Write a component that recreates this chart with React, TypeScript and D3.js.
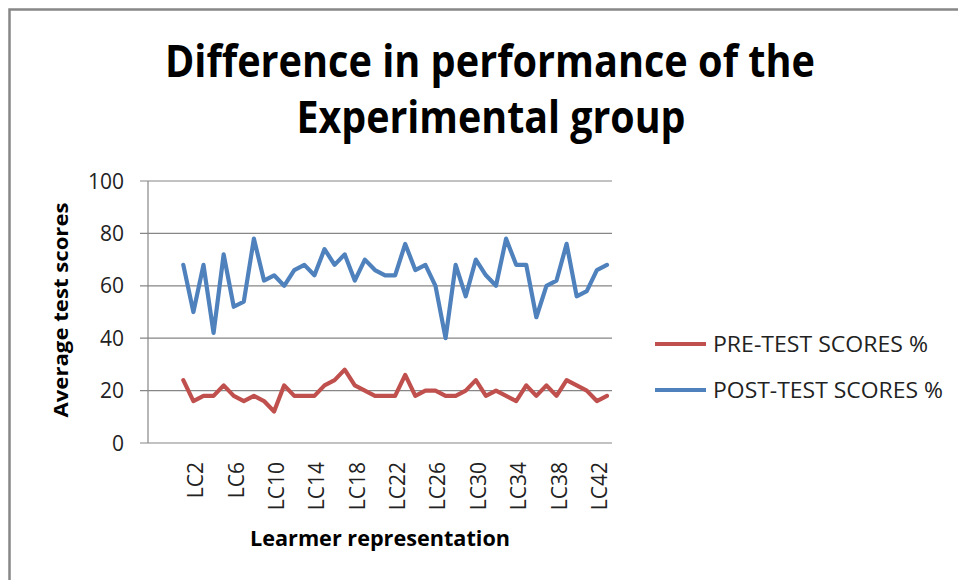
import { useEffect, useRef } from "react"
import * as d3 from "d3"

const learners = [
  "LC1", "LC2", "LC3", "LC4", "LC5", "LC6", "LC7", "LC8", "LC9", "LC10",
  "LC11", "LC12", "LC13", "LC14", "LC15", "LC16", "LC17", "LC18", "LC19", "LC20",
  "LC21", "LC22", "LC23", "LC24", "LC25", "LC26", "LC27", "LC28", "LC29", "LC30",
  "LC31", "LC32", "LC33", "LC34", "LC35", "LC36", "LC37", "LC38", "LC39", "LC40",
  "LC41", "LC42", "LC43",
]

// empty category rows that sit before LC1 in the sheet
const blankRows = ["", "", ""]

const preTest = [
  24, 16, 18, 18, 22, 18, 16, 18, 16, 12,
  22, 18, 18, 18, 22, 24, 28, 22, 20, 18,
  18, 18, 26, 18, 20, 20, 18, 18, 20, 24,
  18, 20, 18, 16, 22, 18, 22, 18, 24, 22,
  20, 16, 18,
]

const postTest = [
  68, 50, 68, 42, 72, 52, 54, 78, 62, 64,
  60, 66, 68, 64, 74, 68, 72, 62, 70, 66,
  64, 64, 76, 66, 68, 60, 40, 68, 56, 70,
  64, 60, 78, 68, 68, 48, 60, 62, 76, 56,
  58, 66, 68,
]

const yTicks = [0, 20, 40, 60, 80, 100]

const seriesNames = ["PRE-TEST SCORES %", "POST-TEST SCORES %"]
const seriesColors = ["#C0504D", "#4F81BD"]

const FONT = "'Open Sans', 'Noto Sans', sans-serif"

export default function App() {
  const svgRef = useRef<SVGSVGElement>(null)

  useEffect(() => {
    const el = svgRef.current
    if (!el || el.childElementCount > 0) return

    const svg = d3.select(el)
    const left = 148
    const right = 612
    const top = 181
    const bottom = 443

    // outer chart frame (runs past the right/bottom of the picture)
    svg
      .append("rect")
      .attr("x", 9.5)
      .attr("y", 9.5)
      .attr("width", 1000)
      .attr("height", 1000)
      .attr("fill", "#fff")
      .attr("stroke", "#878787")
      .attr("stroke-width", 2.5)

    // title
    const title = svg
      .append("g")
      .attr("font-family", FONT)
      .attr("font-weight", 700)
      .attr("font-size", 45)
      .attr("fill", "#000")
      .attr("text-anchor", "middle")
    title
      .append("text")
      .attr("x", 490)
      .attr("y", 77)
      .attr("textLength", 650)
      .attr("lengthAdjust", "spacingAndGlyphs")
      .text("Difference in performance of the")
    title
      .append("text")
      .attr("x", 491)
      .attr("y", 133)
      .attr("textLength", 389)
      .attr("lengthAdjust", "spacingAndGlyphs")
      .text("Experimental group")

    const keys = [...blankRows.map((_, i) => `blank${i}`), ...learners]
    const labels = [...blankRows, ...learners]

    const x = d3.scaleBand<string>().domain(keys).range([left, right])
    const y = d3.scaleLinear().domain([0, 100]).range([bottom, top])

    // gridlines + y ticks
    svg
      .append("g")
      .selectAll("line")
      .data(yTicks)
      .enter()
      .append("line")
      .attr("x1", left - 8)
      .attr("x2", right)
      .attr("y1", (d) => y(d))
      .attr("y2", (d) => y(d))
      .attr("stroke", "#868686")
      .attr("stroke-width", 1.2)

    svg
      .append("line")
      .attr("x1", left)
      .attr("x2", left)
      .attr("y1", top)
      .attr("y2", bottom)
      .attr("stroke", "#868686")
      .attr("stroke-width", 1.2)

    svg
      .append("g")
      .selectAll("text")
      .data(yTicks)
      .enter()
      .append("text")
      .attr("x", 124)
      .attr("y", (d) => y(d))
      .attr("dy", "0.36em")
      .attr("text-anchor", "end")
      .attr("font-family", FONT)
      .attr("font-size", 21)
      .attr("fill", "#222")
      .text((d) => d)

    // x labels, every 4th category, rotated
    const shown = keys.filter((_, i) => i % 4 === 0 && labels[i] !== "")
    svg
      .append("g")
      .selectAll("text")
      .data(shown)
      .enter()
      .append("text")
      .attr("transform", (d) => `translate(${(x(d) || 0) + x.bandwidth() / 2 + 10},462) rotate(-90)`)
      .attr("text-anchor", "end")
      .attr("font-family", FONT)
      .attr("font-size", 21)
      .attr("fill", "#222")
      .text((d) => d)

    // axis titles
    svg
      .append("text")
      .attr("transform", "translate(68,310) rotate(-90)")
      .attr("text-anchor", "middle")
      .attr("font-family", FONT)
      .attr("font-weight", 700)
      .attr("font-size", 20)
      .attr("textLength", 215)
      .attr("lengthAdjust", "spacingAndGlyphs")
      .attr("fill", "#000")
      .text("Average test scores")

    svg
      .append("text")
      .attr("x", 380)
      .attr("y", 546)
      .attr("text-anchor", "middle")
      .attr("font-family", FONT)
      .attr("font-weight", 700)
      .attr("font-size", 21)
      .attr("textLength", 260)
      .attr("lengthAdjust", "spacingAndGlyphs")
      .attr("fill", "#000")
      .text("Learmer representation")

    // series lines
    const line = d3
      .line<number>()
      .x((_, i) => (x(learners[i]) || 0) + x.bandwidth() / 2)
      .y((d) => y(d))

    ;[postTest, preTest].forEach((values, k) => {
      svg
        .append("path")
        .datum(values)
        .attr("fill", "none")
        .attr("stroke", seriesColors[1 - k])
        .attr("stroke-width", 4.2)
        .attr("stroke-linejoin", "round")
        .attr("stroke-linecap", "round")
        .attr("d", line)
    })

    // legend
    const legendWidths = [215, 230]
    const legend = svg.append("g")
    seriesNames.forEach((name, i) => {
      const ly = 344 + i * 46
      legend
        .append("line")
        .attr("x1", 655)
        .attr("x2", 706)
        .attr("y1", ly)
        .attr("y2", ly)
        .attr("stroke", seriesColors[i])
        .attr("stroke-width", 4.2)
      legend
        .append("text")
        .attr("x", 713)
        .attr("y", ly)
        .attr("dy", "0.36em")
        .attr("font-family", FONT)
        .attr("font-size", 22)
        .attr("textLength", legendWidths[i])
        .attr("lengthAdjust", "spacingAndGlyphs")
        .attr("fill", "#222")
        .text(name)
    })
  }, [])

  return (
    <svg
      ref={svgRef}
      width={958}
      height={580}
      style={{ position: "absolute", left: 0, top: 0, display: "block", background: "#fff" }}
    />
  )
}
